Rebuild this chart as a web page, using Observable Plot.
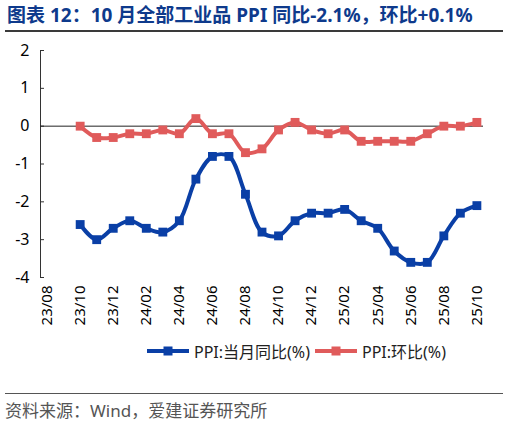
<!DOCTYPE html>
<html>
<head>
<meta charset="utf-8">
<script src="https://cdn.jsdelivr.net/npm/d3@7"></script>
<script src="https://cdn.jsdelivr.net/npm/@observablehq/plot@0.6"></script>
<style>
  body { margin: 0; background: #fff; width: 508px; height: 425px; overflow: hidden;
         font-family: "Noto Sans", "Noto Sans CJK SC", sans-serif; }
  #title { margin: 0 5px; height: 30px; line-height: 30px; border-bottom: 2px solid #3a3a3a;
           color: #0e3a8c; font-weight: bold; font-size: 19px; padding-left: 2px; white-space: nowrap; }
  #chart { height: 305px; }
  #legend { margin-top: 4px; height: 20px; padding-left: 147px; font-size: 16px; color: #222;
            display: flex; align-items: center; gap: 5px; }
  #legend svg { display: block; }
  #source { margin: 32px 5px 0; border-top: 1px solid #555; padding-top: 3px;
            font-size: 17px; color: #555; }
</style>
</head>
<body>
<div id="title">图表 12：10 月全部工业品 PPI 同比-2.1%，环比+0.1%</div>
<div id="chart"></div>
<div id="legend"></div>
<div id="source">资料来源：Wind，爱建证券研究所</div>
<script>
// x 轴类目（含无数据的 23/08、23/09）
const months = ["23/08","23/09","23/10","23/11","23/12","24/01","24/02","24/03","24/04","24/05",
  "24/06","24/07","24/08","24/09","24/10","24/11","24/12","25/01","25/02","25/03",
  "25/04","25/05","25/06","25/07","25/08","25/09","25/10"]
const tickMonths = ["23/08","23/10","23/12","24/02","24/04","24/06","24/08","24/10","24/12",
  "25/02","25/04","25/06","25/08","25/10"]
const dataMonths = months.slice(2)

// PPI 当月同比 (%)
const yoy = [-2.6,-3.0,-2.7,-2.5,-2.7,-2.8,-2.5,-1.4,-0.8,-0.8,-1.8,-2.8,-2.9,
  -2.5,-2.3,-2.3,-2.2,-2.5,-2.7,-3.3,-3.6,-3.6,-2.9,-2.3,-2.1]
// PPI 环比 (%)
const mom = [0.0,-0.3,-0.3,-0.2,-0.2,-0.1,-0.2,0.2,-0.2,-0.2,-0.7,-0.6,-0.1,
  0.1,-0.1,-0.2,-0.1,-0.4,-0.4,-0.4,-0.4,-0.2,0.0,0.0,0.1]

const yTicks = [-4,-3,-2,-1,0,1,2]
const seriesNames = ["PPI:当月同比(%)", "PPI:环比(%)"]
const colors = ["#0a3fa6", "#e05b5b"]

const rows = dataMonths.flatMap((m, i) => [
  {month: m, value: yoy[i], series: seriesNames[0]},
  {month: m, value: mom[i], series: seriesNames[1]}
])

let chart = Plot.plot({
  width: 508,
  height: 305,
  marginTop: 18,
  marginBottom: 60,
  marginLeft: 40,
  marginRight: 25,
  style: {fontFamily: '"Noto Sans", "Noto Sans CJK SC", sans-serif', fontSize: "14px", color: "#000", background: "#fff"},
  x: {type: "point", domain: months, padding: 0.4, round: false, label: null},
  y: {domain: [-4, 2], label: null},
  color: {domain: seriesNames, range: colors},
  marks: [
    Plot.frame({anchor: "left", stroke: "#333"}),
    Plot.axisY({ticks: yTicks, tickSize: 0, tickPadding: 11, fontSize: 16, label: null, tickFormat: d => String(d)}),
    Plot.axisY({ticks: yTicks, tickSize: 4, dx: 4, text: null, stroke: "#333", label: null}),
    Plot.axisX({ticks: tickMonths, tickSize: 0, tickRotate: -90, tickPadding: 8, label: null, fontSize: 15}),
    Plot.ruleY([0], {stroke: "#222", strokeWidth: 1}),
    // 阴影
    Plot.line(rows, {x: "month", y: "value", z: "series", stroke: "#000", strokeOpacity: 0.35,
      strokeWidth: 4, dx: 2, dy: 3, curve: "catmull-rom", ariaLabel: "shadow"}),
    Plot.line(rows, {x: "month", y: "value", stroke: "series", strokeWidth: 4, curve: "catmull-rom"}),
    Plot.dot(rows, {x: "month", y: "value", fill: "series", symbol: "square", r: 5})
  ]
})

// 模糊阴影
const svg = d3.select(chart)
svg.insert("defs", ":first-child").append("filter").attr("id", "blur")
  .attr("x", "-10%").attr("y", "-10%").attr("width", "120%").attr("height", "120%")
  .append("feGaussianBlur").attr("stdDeviation", 1.5)
svg.selectAll('g[aria-label="shadow"]').attr("filter", "url(#blur)")

d3.select('#chart').append(() => chart)

// 图例
const legend = d3.select('#legend')
seriesNames.forEach((name, i) => {
  const s = legend.append("svg").attr("width", 42).attr("height", 12)
  s.append("line").attr("x1", 0).attr("x2", 42).attr("y1", 6).attr("y2", 6)
    .attr("stroke", colors[i]).attr("stroke-width", 4)
  s.append("rect").attr("x", 16.5).attr("y", 1.5).attr("width", 9).attr("height", 9).attr("fill", colors[i])
  legend.append("span").text(name)
})
</script>
</body>
</html>
